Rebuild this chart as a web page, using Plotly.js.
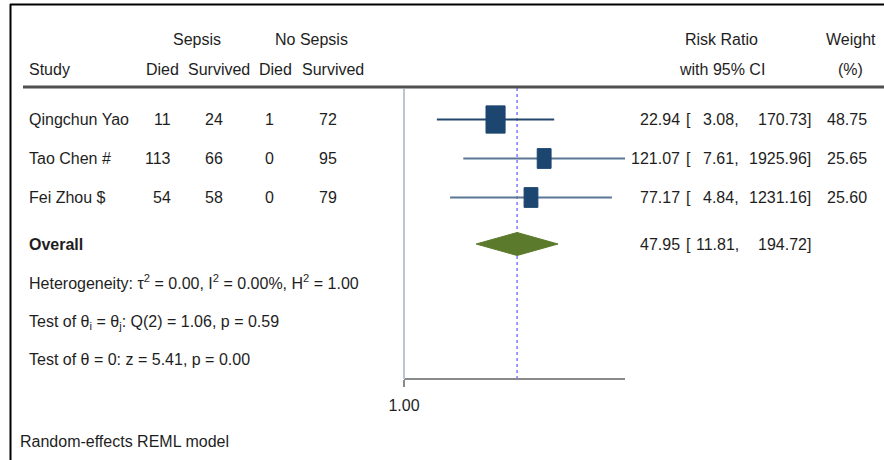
<!DOCTYPE html>
<html>
<head>
<meta charset="utf-8">
<script src="https://cdn.plot.ly/plotly-3.0.1.min.js"></script>
<style>
html,body{margin:0;padding:0;background:#fff;}
#chart{width:884px;height:460px;}
</style>
</head>
<body>
<div id="chart"></div>
<script>
// ---- data ----
var studies = ["Qingchun Yao", "Tao Chen #", "Fei Zhou $"];
var sepsisDied = [11, 113, 54];
var sepsisSurvived = [24, 66, 58];
var noSepsisDied = [1, 0, 0];
var noSepsisSurvived = [72, 95, 79];
var rr = [22.94, 121.07, 77.17];
var rrLow = [3.08, 7.61, 4.84];
var rrHigh = [170.73, 1925.96, 1231.16];
var weights = [48.75, 25.65, 25.60];
var overallLabel = "Overall";
var overallRR = 47.95;
var overallLow = 11.81;
var overallHigh = 194.72;
var statLines = [
  "Heterogeneity: τ<sup>2</sup> = 0.00, I<sup>2</sup> = 0.00%, H<sup>2</sup> = 1.00",
  "Test of θ<sub>i</sub> = θ<sub>j</sub>: Q(2) = 1.06, p = 0.59",
  "Test of θ = 0: z = 5.41, p = 0.00"
];
var footnote = "Random-effects REML model";
var tickVals = [1];
var tickText = ["1.00"];

// ---- layout helpers (pixel geometry) ----
var W = 884, H = 460;
var FONT = "'Liberation Sans', Arial, sans-serif";
var FS = 16;
var TXT = "#1e1e1e";
var rowY = function(i){ return 119.5 + 39 * i; };
var overallY = 244;
var statY = [281.5, 322, 359];
var axisTopY = 88, axisBottomY = 379;
var xDom = [404 / W, 625 / W];
var logMax = Math.log(Math.max.apply(null, rrHigh)) / Math.LN10;

function fmt(v){ return v.toFixed(2); }
function ann(text, xpx, ypx, anchor, extra){
  var a = {text: text, x: xpx / W, xref: "paper", y: ypx, yref: "y",
    xanchor: anchor, yanchor: "middle", showarrow: false,
    font: {family: FONT, size: FS, color: TXT}};
  if (extra) for (var k in extra) a[k] = extra[k];
  return a;
}

var traces = [];
var annotations = [];

// dashed overall line
traces.push({x: [overallRR, overallRR], y: [axisTopY, axisBottomY], mode: "lines",
  line: {color: "#3a3aff", width: 1, dash: "3px,3px"}, hoverinfo: "skip", showlegend: false});

// study CIs and boxes
for (var i = 0; i < studies.length; i++) {
  var y = rowY(i);
  traces.push({x: [rrLow[i], rrHigh[i]], y: [y, y], mode: "lines",
    line: {color: i === 0 ? "#24486d" : "#5a7795", width: 2.2}, hoverinfo: "skip", showlegend: false});
  var hw = 0.0203 * Math.sqrt(weights[i]);
  var hh = 1.95 * Math.sqrt(weights[i]);
  var lo = rr[i] * Math.pow(10, -hw), hi = rr[i] * Math.pow(10, hw);
  traces.push({x: [lo, hi, hi, lo, lo], y: [y - hh, y - hh, y + hh, y + hh, y - hh],
    mode: "lines", fill: "toself", fillcolor: "#1c4670", line: {color: "#1c4670", width: 1},
    hoverinfo: "skip", showlegend: false});
}
// overall diamond
var dh = 11.5;
traces.push({x: [overallLow, overallRR, overallHigh, overallRR, overallLow],
  y: [overallY, overallY - dh, overallY, overallY + dh, overallY],
  mode: "lines", fill: "toself", fillcolor: "#5b7a2b", line: {color: "#5b7a2b", width: 1},
  hoverinfo: "skip", showlegend: false});

// header
annotations.push(ann("Sepsis", 197, 39, "center"));
annotations.push(ann("No Sepsis", 311, 39, "center"));
annotations.push(ann("Study", 27, 69, "left"));
annotations.push(ann("Died", 162, 69, "center"));
annotations.push(ann("Survived", 219, 69, "center"));
annotations.push(ann("Died", 275.5, 69, "center"));
annotations.push(ann("Survived", 333, 69, "center"));
annotations.push(ann("Risk Ratio", 721.5, 39, "center"));
annotations.push(ann("with 95% CI", 721.5, 69, "center"));
annotations.push(ann("Weight", 851, 39, "center"));
annotations.push(ann("(%)", 850, 69, "center"));

// rows
function rightCols(y, est, lo, hi, w){
  annotations.push(ann(fmt(est), 682, y, "right"));
  annotations.push(ann("[", 684, y, "left"));
  annotations.push(ann(fmt(lo) + ",", 741, y, "right"));
  annotations.push(ann(fmt(hi) + "]", 813, y, "right"));
  if (w !== null) annotations.push(ann(fmt(w), 869, y, "right"));
}
for (var i = 0; i < studies.length; i++) {
  var y = rowY(i);
  annotations.push(ann(studies[i], 27, y, "left"));
  annotations.push(ann(String(sepsisDied[i]), 173, y, "right"));
  annotations.push(ann(String(sepsisSurvived[i]), 225.5, y, "right"));
  annotations.push(ann(String(noSepsisDied[i]), 276, y, "right"));
  annotations.push(ann(String(noSepsisSurvived[i]), 338.5, y, "right"));
  rightCols(y, rr[i], rrLow[i], rrHigh[i], weights[i]);
}
annotations.push(ann("<b>" + overallLabel + "</b>", 27, overallY, "left"));
rightCols(overallY, overallRR, overallLow, overallHigh, null);
for (var j = 0; j < statLines.length; j++) {
  annotations.push(ann(statLines[j], 27, statY[j], "left"));
}
annotations.push(ann(footnote, 18, 441.5, "left"));

var shapes = [
  // frame
  {type: "line", xref: "paper", yref: "paper", x0: 10 / W, x1: 1, y0: 1 - 4.5 / H, y1: 1 - 4.5 / H,
    line: {color: "#000", width: 2}},
  {type: "line", xref: "paper", yref: "paper", x0: 10.5 / W, x1: 10.5 / W, y0: 1 - 4 / H, y1: 0,
    line: {color: "#000", width: 2}},
  // header rule
  {type: "line", xref: "paper", yref: "y", x0: 23 / W, x1: 1, y0: 87, y1: 87,
    line: {color: "#505050", width: 3}},
  // vertical axis line at 1.00
  {type: "line", xref: "paper", yref: "y", x0: 404 / W, x1: 404 / W, y0: axisTopY + 1, y1: axisBottomY,
    line: {color: "#b7c5d5", width: 2}}
];

var layout = {
  width: W, height: H,
  margin: {l: 0, r: 0, t: 0, b: 0, pad: 0},
  paper_bgcolor: "#fff", plot_bgcolor: "rgba(0,0,0,0)",
  showlegend: false,
  font: {family: FONT, size: FS, color: TXT},
  xaxis: {type: "log", domain: xDom, range: [0, logMax], anchor: "free",
    position: (H - axisBottomY) / H,
    showgrid: false, zeroline: false, showline: true, linecolor: "#8a8a8a", linewidth: 2,
    ticks: "outside", ticklen: 7, tickwidth: 2, tickcolor: "#8a8a8a",
    tickvals: tickVals, ticktext: tickText, ticklabelstandoff: 5,
    tickfont: {family: FONT, size: FS, color: TXT}, fixedrange: true},
  yaxis: {domain: [0, 1], range: [H, 0], visible: false, showgrid: false, zeroline: false, fixedrange: true},
  shapes: shapes,
  annotations: annotations
};

Plotly.newPlot("chart", traces, layout, {displayModeBar: false, staticPlot: true});
</script>
</body>
</html>
